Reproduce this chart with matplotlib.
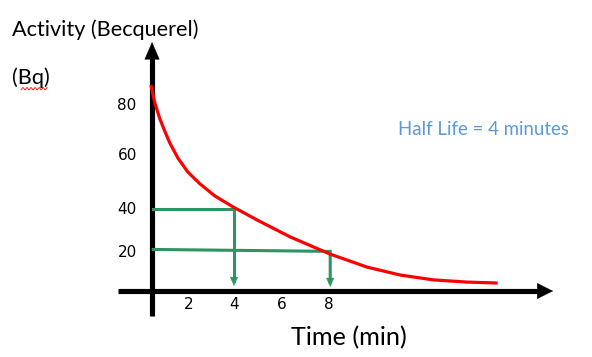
import numpy as np
import matplotlib.pyplot as plt

# decay curve (minutes, Bq)
time_min = [0.5, 0.67, 0.88, 1.1, 1.3, 1.64, 2.06, 2.57, 3.2, 3.96, 4.97, 6.36, 8.04, 9.6, 11.0, 12.4, 13.8, 15.1]
activity = [88.5, 81.1, 74.5, 69.1, 64.5, 58.3, 52.5, 47.6, 42.6, 38.1, 32.7, 25.7, 18.6, 13.2, 9.9, 7.9, 7.0, 6.6]

y_tick_vals = [80, 60, 40, 20]
y_tick_pos = [79.9, 59.2, 37.2, 19.4]
x_tick_vals = [2, 4, 6, 8]
x_tick_pos = [2.1, 4.0, 6.0, 8.0]

# half life guide lines (x, y)
guide1_x = [0.6, 4.0, 4.0]
guide1_y = [37.2, 37.2, 5.4]
guide2_x = [0.6, 8.05, 8.05]
guide2_y = [20.5, 19.7, 5.0]

green = "#2e9462"
fig = plt.figure(figsize=(5.92, 3.57), dpi=100)
ax = fig.add_axes([0, 0, 1, 1])
ax.set_xlim(-5.85, 19.07)
ax.set_ylim(-24.0, 123.7)
ax.axis("off")


def head(x0, y0, x1, y1, color, hl, hw):
    # filled arrow head only, the shaft is drawn with plot
    ax.annotate("", xy=(x1, y1), xytext=(x0, y0),
                arrowprops=dict(arrowstyle=f"-|>,head_length={hl},head_width={hw}", lw=0.3,
                                color=color, mutation_scale=10, shrinkA=0, shrinkB=0))


# axes
ax.plot([-0.88, 16.9], [3.3, 3.3], color="k", lw=3.7, solid_capstyle="butt")
head(16.0, 3.3, 17.43, 3.3, "k", 1.1, 0.55)
ax.plot([0.55, 0.55], [-7.0, 100.0], color="k", lw=3.7, solid_capstyle="butt")
head(0.55, 95.0, 0.55, 106.3, "k", 1.2, 0.52)

ax.plot(time_min, activity, color="red", lw=2.3, solid_capstyle="butt", solid_joinstyle="round", zorder=3)

for gx, gy in [(guide1_x, guide1_y), (guide2_x, guide2_y)]:
    ax.plot(gx, [gy[0], gy[1], gy[2] + 2.0], color=green, lw=2.2, zorder=2, solid_joinstyle="miter")
    head(gx[2], gy[2] + 4.0, gx[2], gy[2], green, 0.6, 0.27)

for v, p in zip(y_tick_vals, y_tick_pos):
    ax.text(-0.5, p, str(v), ha="center", va="center", fontsize=11, family="DejaVu Sans")
for v, p in zip(x_tick_vals, x_tick_pos):
    ax.text(p, -2.3, str(v), ha="center", va="center", fontsize=11, family="DejaVu Sans")

ax.text(-5.35, 111.5, "Activity (Becquerel)", ha="left", va="center", fontsize=15.6, family="Lato")
ax.text(-5.35, 91.5, "(Bq)", ha="left", va="center", fontsize=15.6, family="Lato")
ax.text(6.4, -15.8, "Time (min)", ha="left", va="center", fontsize=18.2, family="Lato")
ax.text(10.9, 70.3, "Half Life = 4 minutes", ha="left", va="center", fontsize=13.4, color="#5b9bd5", family="Lato")

# spell-check squiggle under (Bq)
sq_x = np.linspace(-4.97, -3.87, 40)
ax.plot(sq_x, 87.0 + 0.5 * np.sin(sq_x * 37), color="red", lw=0.6)

fig.savefig("out.png", dpi=100)
